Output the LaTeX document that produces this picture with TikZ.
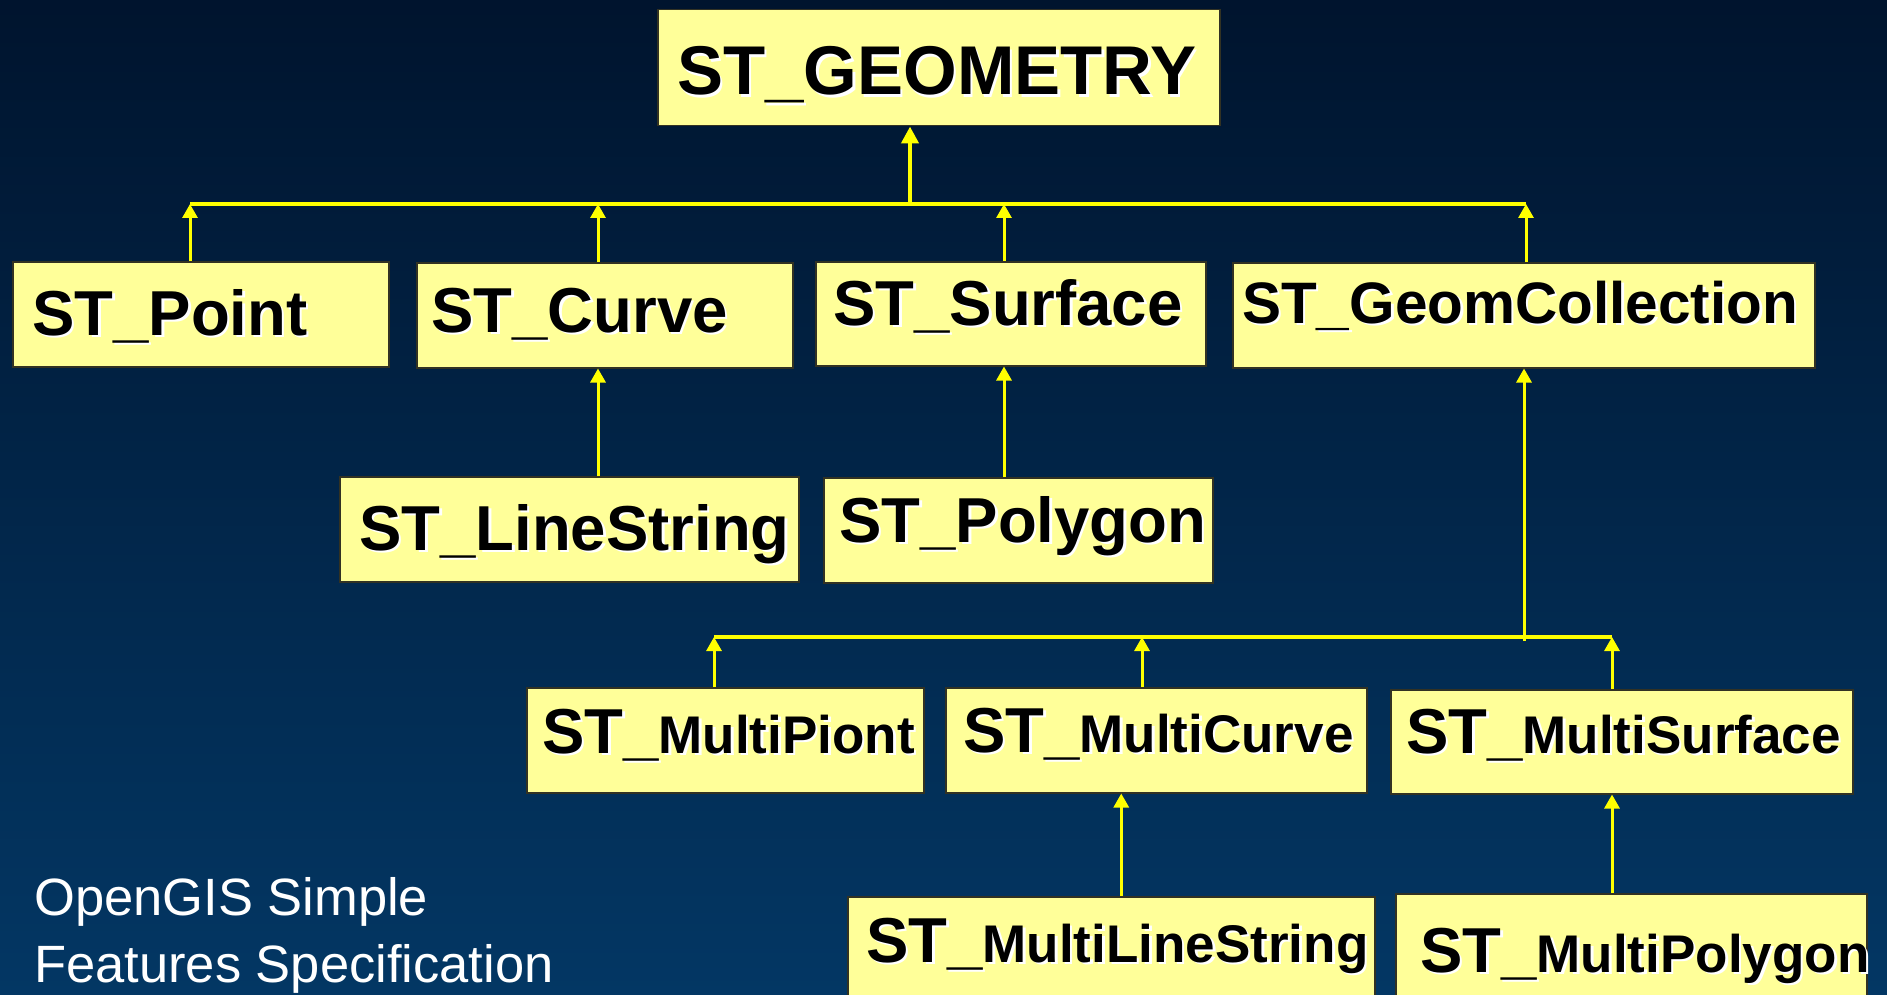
\documentclass[tikz,border=0pt]{standalone}
\usepackage{fontspec}
\setmainfont{Liberation Sans}
\usetikzlibrary{arrows.meta}

\definecolor{boxfill}{RGB}{255,255,153}
\definecolor{boxline}{RGB}{50,50,35}
\definecolor{bgtop}{RGB}{0,20,46}
\definecolor{bgbottom}{RGB}{3,55,100}
\definecolor{wire}{RGB}{255,255,0}

\newcommand\shtext[1]{\makebox[0pt][l]{\hspace{2.5pt}\raisebox{-2.5pt}{\color{white}#1}}#1}
\newcommand\multi[1]{{\fontsize{53}{60}\selectfont #1}}

\tikzset{
  box/.style={draw=boxline,fill=boxfill,line width=1.5pt,inner sep=0pt,anchor=north west},
  lbl/.style={anchor=base west,inner sep=0pt,font=\bfseries\fontsize{63.5}{70}\selectfont},
  note/.style={anchor=base west,inner sep=0pt,text=white,font=\fontsize{52.5}{60}\selectfont},
  arr/.style={wire,line width=3pt,-{Triangle[width=15pt,length=14pt]}},
  bus/.style={wire,line width=3.5pt}
}

\begin{document}
\begin{tikzpicture}[x=1pt,y=-1pt]
\useasboundingbox (0,0) rectangle (1887,995);
\clip (0,0) rectangle (1887,995);
\shade[top color=bgtop,bottom color=bgbottom] (0,0) rectangle (1887,995);

\node[box,minimum width=562pt,minimum height=116pt] (geom) at (657,9) {};
\node[box,minimum width=376pt,minimum height=105pt] (point) at (12,261) {};
\node[box,minimum width=376pt,minimum height=105pt] (curve) at (416,262) {};
\node[box,minimum width=390pt,minimum height=104pt] (surface) at (815,261) {};
\node[box,minimum width=582pt,minimum height=105pt] (gcoll) at (1232,262) {};
\node[box,minimum width=459pt,minimum height=105pt] (lstring) at (339,476) {};
\node[box,minimum width=389pt,minimum height=105pt] (polygon) at (823,477) {};
\node[box,minimum width=397pt,minimum height=105pt] (mpoint) at (526,687) {};
\node[box,minimum width=421pt,minimum height=105pt] (mcurve) at (945,687) {};
\node[box,minimum width=462pt,minimum height=104pt] (msurface) at (1390,689) {};
\node[box,minimum width=527pt,minimum height=105pt] (mlstring) at (847,896) {};
\node[box,minimum width=471pt,minimum height=105pt] (mpolygon) at (1395,893) {};

\node[lbl] (geom-t) at (677,95) {\fontsize{69}{75}\selectfont\shtext{ST\_GEOMETRY}};
\node[lbl] (point-t) at (32,335) {\shtext{ST\_Point}};
\node[lbl] (curve-t) at (431,332) {\shtext{ST\_Curve}};
\node[lbl] (surface-t) at (833,325) {\shtext{ST\_Surface}};
\node[lbl] (gcoll-t) at (1242,323) {\fontsize{58.5}{65}\selectfont\shtext{ST\_GeomCollection}};
\node[lbl] (lstring-t) at (359,550) {\shtext{ST\_LineString}};
\node[lbl] (polygon-t) at (839,542) {\shtext{ST\_Polygon}};
\node[lbl] (mpoint-t) at (542,753) {\shtext{ST\_\multi{MultiPiont}}};
\node[lbl] (mcurve-t) at (963,752) {\shtext{ST\_\multi{MultiCurve}}};
\node[lbl] (msurface-t) at (1406,753) {\shtext{ST\_\multi{MultiSurface}}};
\node[lbl] (mlstring-t) at (866,962) {\shtext{ST\_\multi{MultiLineString}}};
\node[lbl] (mpolygon-t) at (1420,972) {\shtext{ST\_\multi{MultiPolygon}}};

\coordinate (bus1-l) at (190,204);
\coordinate (bus1-r) at (1526,204);
\coordinate (b-top) at (910,204);
\coordinate (b-curve) at (598,204);
\coordinate (b-surface) at (1004,204);
\draw[bus] (bus1-l) -- (bus1-r);
\draw[arr,line width=4.5pt,-{Triangle[width=17pt,length=17pt]}] (b-top) -- (b-top |- geom.south);
\draw[arr] (bus1-l |- point.north) -- (bus1-l);
\draw[arr] (b-curve |- curve.north) -- (b-curve);
\draw[arr] (b-surface |- surface.north) -- (b-surface);
\draw[arr] (bus1-r |- gcoll.north) -- (bus1-r);

\draw[arr] (lstring.north -| b-curve) -- (curve.south -| b-curve);
\draw[arr] (polygon.north -| b-surface) -- (surface.south -| b-surface);

\coordinate (bus2-l) at (714,637);
\coordinate (bus2-r) at (1612,637);
\coordinate (b-mcurve) at (1142,637);
\coordinate (b-gcoll) at (1524,641);
\draw[bus] (bus2-l) -- (bus2-r);
\draw[arr] (b-gcoll) -- (b-gcoll |- gcoll.south);
\draw[arr] (bus2-l |- mpoint.north) -- (bus2-l);
\draw[arr] (b-mcurve |- mcurve.north) -- (b-mcurve);
\draw[arr] (bus2-r |- msurface.north) -- (bus2-r);

\draw[arr] ([xshift=10pt]mlstring.north) -- ([xshift=10pt]mlstring.north |- mcurve.south);
\draw[arr] (mpolygon.north -| bus2-r) -- (msurface.south -| bus2-r);

\node[note] (spec1) at (34,915) {OpenGIS Simple};
\node[note] (spec2) at (34,982) {Features Specification};
\end{tikzpicture}
\end{document}
